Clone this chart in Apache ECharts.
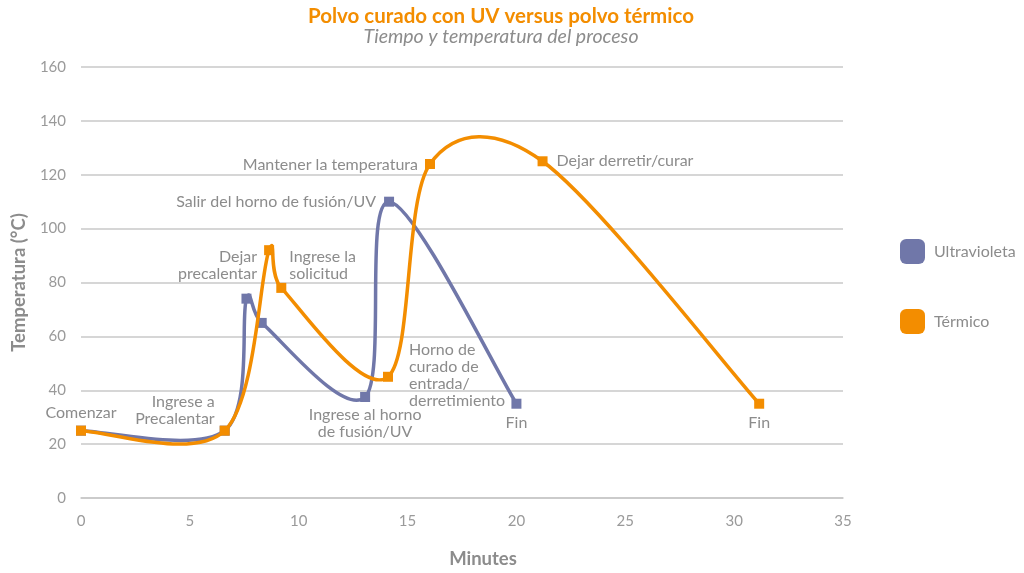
<!DOCTYPE html>
<html>
<head>
<meta charset="utf-8">
<script src="https://cdn.jsdelivr.net/npm/echarts@6/dist/echarts.min.js"></script>
<style>
html,body{margin:0;padding:0;background:#fff;overflow:hidden;}
#c{width:1024px;height:573px;}
</style>
</head>
<body>
<div id="c"></div>
<script>
// ---- data ----
const uvX = [0, 6.6, 7.6, 8.3, 13.05, 14.15, 20];
const uvY = [25, 25, 74, 65, 37.5, 110, 35];
const uvLabels = ['', '', '', '', 'Ingrese al horno\nde fusión/UV', 'Salir del horno de fusión/UV', 'Fin'];

const thX = [0, 6.6, 8.64, 9.2, 14.1, 16.03, 21.2, 31.15];
const thY = [25, 25, 92, 78, 45, 124, 125, 35];
const thLabels = ['Comenzar', 'Ingrese a\nPrecalentar', 'Dejar\nprecalentar', 'Ingrese la\nsolicitud',
  'Horno de\ncurado de\nentrada/\nderretimiento', 'Mantener la temperatura', 'Dejar derretir/curar', 'Fin'];

const xTicks = { min: 0, max: 35, interval: 5 };
const yTicks = { min: 0, max: 160, interval: 20 };

// ---- label placement (style only) ----
const uvLabelPos = [
  null, null, null, null,
  { position: 'bottom', distance: 4 },
  { position: 'left', distance: 8 },
  { position: 'bottom', distance: 6 }
];
const thLabelPos = [
  { position: 'top', distance: 4 },
  { position: 'left', distance: 5, offset: [0, -20] },
  { position: 'left', distance: 7, offset: [0, 15] },
  { position: 'right', distance: 3, offset: [0, -23] },
  { position: 'right', distance: 16, offset: [0, -1] },
  { position: 'left', distance: 7, offset: [0, 1] },
  { position: 'right', distance: 9 },
  { position: 'bottom', distance: 6 }
];

const FONT = 'Lato, "Open Sans", sans-serif';
const GRAY = '#8c8c8c';
const UV_COLOR = '#7077a9';
const TH_COLOR = '#f38d00';
const TENSION = 1 / 6;

function build(xs, ys, names, pos) {
  return xs.map((x, i) => {
    const item = { name: names[i], value: [x, ys[i]] };
    if (pos[i] && names[i]) {
      item.label = Object.assign({ show: true }, pos[i]);
    } else {
      item.label = { show: false };
    }
    return item;
  });
}

// smooth curve segment (spreadsheet-style smoothing) drawn through the axis scales
function curveRenderer(xs, ys, color) {
  return function (params, api) {
    const i = params.dataIndex;
    const n = xs.length;
    if (i >= n - 1) return null;
    const c = j => { j = Math.max(0, Math.min(n - 1, j)); return api.coord([xs[j], ys[j]]); };
    const p0 = c(i - 1), p1 = c(i), p2 = c(i + 1), p3 = c(i + 2);
    const seg = Math.hypot(p2[0] - p1[0], p2[1] - p1[1]);
    const lim = seg / 2;
    function tangent(a, b) {
      let vx = (b[0] - a[0]) * TENSION, vy = (b[1] - a[1]) * TENSION;
      const l = Math.hypot(vx, vy);
      if (l > lim && l > 0) { vx *= lim / l; vy *= lim / l; }
      return [vx, vy];
    }
    const t1 = tangent(p0, p2), t2 = tangent(p1, p3);
    return {
      type: 'bezierCurve',
      shape: {
        x1: p1[0], y1: p1[1],
        cpx1: p1[0] + t1[0], cpy1: p1[1] + t1[1],
        cpx2: p2[0] - t2[0], cpy2: p2[1] - t2[1],
        x2: p2[0], y2: p2[1]
      },
      style: { stroke: color, lineWidth: 3.5, fill: null, lineCap: 'round' },
      silent: true
    };
  };
}

const labelStyle = {
  show: true,
  formatter: p => p.name,
  color: GRAY,
  fontFamily: FONT,
  fontSize: 16,
  lineHeight: 17
};

const chart = echarts.init(document.getElementById('c'));
chart.setOption({
  backgroundColor: '#ffffff',
  animation: false,
  title: {
    text: 'Polvo curado con UV versus polvo térmico',
    subtext: 'Tiempo y temperatura del proceso',
    left: 496,
    top: 1,
    textAlign: 'center',
    itemGap: 0,
    textStyle: { color: TH_COLOR, fontFamily: FONT, fontWeight: 'bold', fontSize: 20.5 },
    subtextStyle: { color: GRAY, fontFamily: FONT, fontStyle: 'italic', fontSize: 19.5 }
  },
  legend: {
    orient: 'vertical',
    left: 895,
    top: 234,
    itemWidth: 25,
    itemHeight: 25,
    itemGap: 45,
    icon: 'roundRect',
    textStyle: { color: GRAY, fontFamily: FONT, fontSize: 16, padding: [0, 0, 0, 4] },
    data: ['Ultravioleta', 'Térmico']
  },
  grid: { left: 81, width: 762, top: 67, height: 431, outerBoundsMode: 'none', containLabel: false },
  xAxis: {
    type: 'value',
    min: xTicks.min, max: xTicks.max, interval: xTicks.interval,
    name: 'Minutes',
    nameLocation: 'middle',
    nameGap: 52,
    nameTextStyle: { color: GRAY, fontFamily: FONT, fontWeight: 'bold', fontSize: 18.5, padding: [0, 0, 0, 42] },
    axisLine: { show: true, lineStyle: { color: '#c8c8c8', width: 1.5 } },
    axisTick: { show: false },
    splitLine: { show: false },
    axisLabel: { color: '#9a9a9a', fontFamily: FONT, fontSize: 15, margin: 16 }
  },
  yAxis: {
    type: 'value',
    min: yTicks.min, max: yTicks.max, interval: yTicks.interval,
    name: 'Temperatura (°C)',
    nameLocation: 'middle',
    nameGap: 48,
    nameTextStyle: { color: GRAY, fontFamily: FONT, fontWeight: 'bold', fontSize: 18.5 },
    axisLine: { show: false },
    axisTick: { show: false },
    splitLine: { show: true, lineStyle: { color: '#c8c8c8', width: 1.5 } },
    axisLabel: { color: '#9a9a9a', fontFamily: FONT, fontSize: 15, margin: 15 }
  },
  series: [
    {
      name: 'Ultravioleta',
      type: 'custom',
      renderItem: curveRenderer(uvX, uvY, UV_COLOR),
      itemStyle: { color: UV_COLOR },
      encode: { x: 0, y: 1 },
      data: uvX.map((x, i) => [x, uvY[i]]),
      z: 2
    },
    {
      name: 'Ultravioleta',
      type: 'line',
      symbol: 'rect',
      symbolSize: 10,
      itemStyle: { color: UV_COLOR },
      lineStyle: { color: UV_COLOR, width: 0, opacity: 0 },
      label: labelStyle,
      data: build(uvX, uvY, uvLabels, uvLabelPos),
      z: 2
    },
    {
      name: 'Térmico',
      type: 'custom',
      renderItem: curveRenderer(thX, thY, TH_COLOR),
      itemStyle: { color: TH_COLOR },
      encode: { x: 0, y: 1 },
      data: thX.map((x, i) => [x, thY[i]]),
      z: 3
    },
    {
      name: 'Térmico',
      type: 'line',
      symbol: 'rect',
      symbolSize: 10,
      itemStyle: { color: TH_COLOR },
      lineStyle: { color: TH_COLOR, width: 0, opacity: 0 },
      label: labelStyle,
      data: build(thX, thY, thLabels, thLabelPos),
      z: 3
    }
  ]
});
</script>
</body>
</html>
